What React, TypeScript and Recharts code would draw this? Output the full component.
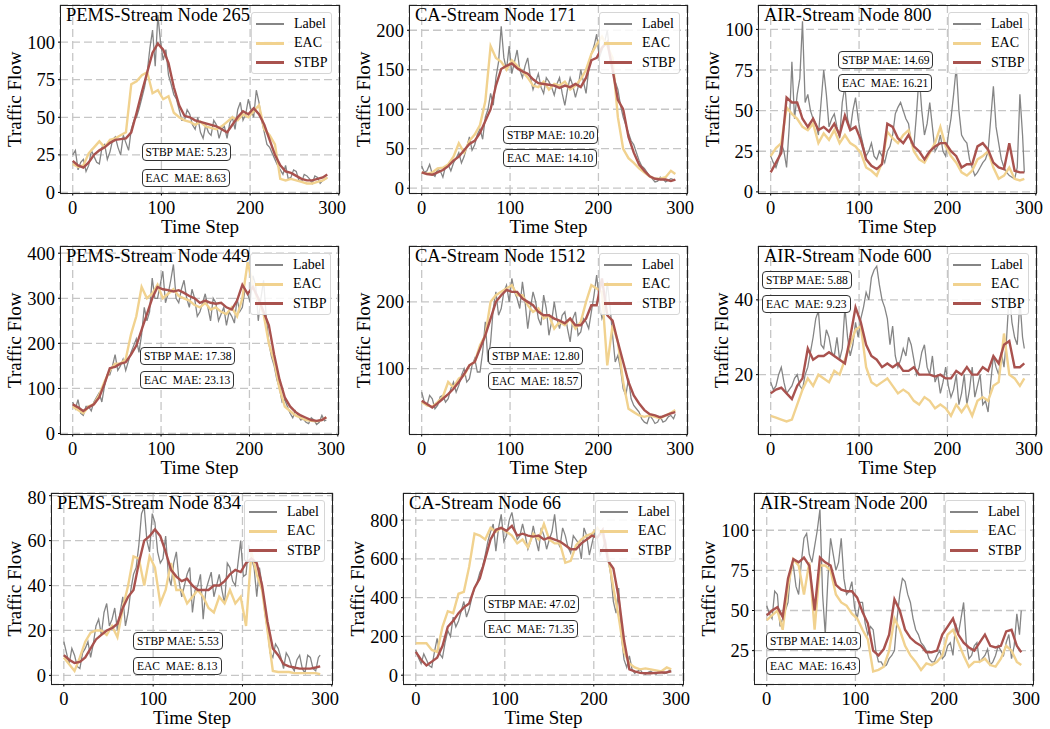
import { CartesianGrid, Line, LineChart, XAxis, YAxis } from "recharts"

const SERIF = '"Liberation Serif", "Times New Roman", serif'
const C_LABEL = "#858585"
const C_EAC = "#F1D28F"
const C_STBP = "#A9524E"

const AXIS_W = 60
const AXIS_H = 44
const PAD = 6

// prediction time steps, read every 6 steps (plus the last one)
const steps = [
  0, 6, 12, 18, 24, 30, 36, 42, 48, 54, 60, 66, 72, 78, 84, 90, 96, 102, 108, 114, 120, 126, 132, 138,
  144, 150, 156, 162, 168, 174, 180, 186, 192, 198, 204, 210, 216, 222, 228, 234, 240, 246, 252, 258,
  264, 270, 276, 282, 287,
]
// the noisy ground truth is read every 3 steps
const labelSteps = [
  0, 3, 6, 9, 12, 15, 18, 21, 24, 27, 30, 33, 36, 39, 42, 45, 48, 51, 54, 57, 60, 63, 66, 69, 72, 75, 78, 81,
  84, 87, 90, 93, 96, 99, 102, 105, 108, 111, 114, 117, 120, 123, 126, 129, 132, 135, 138, 141, 144, 147, 150,
  153, 156, 159, 162, 165, 168, 171, 174, 177, 180, 183, 186, 189, 192, 195, 198, 201, 204, 207, 210, 213, 216,
  219, 222, 225, 228, 231, 234, 237, 240, 243, 246, 249, 252, 255, 258, 261, 264, 267, 270, 273, 276, 279, 282,
  285, 287,
]
const xTicks = [0, 100, 200, 300]

// PEMS-Stream Node 265
const pems265Label = [
  25, 28, 15, 20, 22, 14, 18, 28, 24, 20, 19, 30, 32, 22, 27, 35,
  37, 30, 25, 38, 33, 28, 42, 48, 50, 56, 63, 70, 80, 96, 108, 84,
  118, 100, 88, 95, 78, 72, 65, 62, 55, 48, 48, 55, 52, 45, 42, 50,
  40, 36, 45, 40, 38, 48, 45, 36, 42, 44, 36, 46, 50, 42, 55, 60,
  48, 52, 62, 55, 50, 68, 60, 48, 40, 32, 30, 26, 22, 18, 15, 12,
  18, 9, 10, 15, 14, 8, 7, 12, 11, 9, 6, 11, 10, 6, 8, 9,
  10,
]
const pems265Eac = [19, 17, 18, 26, 30, 34, 30, 35, 36, 38, 40, 72, 74, 78, 80, 66, 68, 62, 64, 53, 50, 48, 47, 45, 47, 44, 43, 42, 44, 47, 50, 48, 52, 50, 54, 58, 42, 38, 32, 9, 8, 9, 8, 7, 6, 6, 7, 8, 10]
const pems265Stbp = [21, 18, 16.5, 20, 25, 28, 30, 33, 35, 35.5, 36, 40, 53, 67, 80, 93, 99, 95, 86, 70, 58, 51, 50, 48, 47, 46, 45, 44, 42, 40, 45, 50, 54, 52, 56, 52, 45, 35, 25, 18, 14, 13, 11, 9, 8, 8, 9, 10, 12]

// CA-Stream Node 171
const ca171Label = [
  28, 20, 22, 30, 18, 15, 24, 22, 14, 28, 30, 22, 32, 38, 45, 32,
  40, 52, 65, 48, 55, 68, 75, 62, 90, 100, 120, 105, 140, 160, 205, 165,
  150, 180, 145, 160, 175, 150, 140, 155, 165, 140, 125, 135, 145, 128, 120, 140,
  135, 128, 118, 132, 140, 120, 105, 125, 140, 130, 115, 128, 150, 135, 120, 150,
  170, 180, 195, 165, 175, 185, 200, 170, 150, 135, 125, 105, 90, 80, 70, 60,
  55, 45, 35, 28, 25, 20, 15, 12, 8, 9, 14, 12, 8, 10, 12, 11,
  10,
]
const ca171Eac = [20, 18, 20, 25, 26, 30, 40, 57, 45, 60, 68, 80, 110, 180, 165, 160, 150, 162, 155, 148, 140, 130, 128, 135, 125, 132, 130, 135, 125, 130, 138, 150, 170, 182, 192, 180, 165, 90, 50, 38, 32, 25, 20, 15, 12, 12, 14, 22, 18]
const ca171Stbp = [20, 18, 17, 20, 23, 28, 35, 40, 48, 56, 60, 70, 85, 100, 130, 151, 155, 158, 152, 148, 145, 138, 133, 132, 131, 130, 127, 130, 128, 132, 128, 140, 162, 165, 178, 185, 150, 112, 100, 65, 45, 30, 22, 15, 12, 11, 11, 9, 11]

// AIR-Stream Node 800
const air800Label = [
  22, 18, 15, 20, 30, 25, 15, 40, 80, 45, 60, 70, 105, 55, 60, 50,
  45, 42, 35, 55, 75, 60, 40, 45, 48, 40, 33, 55, 65, 45, 38, 50,
  58, 45, 35, 28, 22, 25, 30, 22, 20, 25, 22, 18, 25, 28, 35, 48,
  52, 55, 50, 45, 42, 30, 28, 48, 72, 50, 35, 42, 55, 40, 25, 28,
  35, 25, 22, 35, 45, 60, 77, 50, 35, 32, 30, 20, 15, 10, 12, 15,
  18, 20, 25, 45, 65, 40, 30, 20, 15, 12, 10, 9, 8, 15, 60, 35,
  12,
]
const air800Eac = [22, 27, 30, 52, 48, 45, 40, 38, 42, 30, 36, 32, 38, 30, 35, 30, 28, 24, 15, 13, 10, 18, 37, 33, 30, 35, 38, 25, 20, 18, 24, 30, 40, 28, 22, 18, 12, 10, 13, 20, 22, 25, 15, 8, 10, 15, 8, 7, 8]
const air800Stbp = [12, 18, 24, 58, 55, 55, 45, 40, 45, 38, 40, 37, 42, 35, 47, 38, 40, 32, 20, 16, 14, 17, 42, 40, 33, 30, 35, 28, 25, 20, 25, 28, 30, 30, 25, 22, 15, 17, 17, 28, 30, 26, 18, 15, 14, 30, 13, 12, 12]

// PEMS-Stream Node 449
const pems449Label = [
  70, 55, 75, 45, 40, 60, 60, 50, 70, 80, 90, 70, 105, 130, 130, 150,
  175, 140, 150, 165, 140, 160, 180, 195, 210, 180, 220, 280, 250, 270, 345, 300,
  300, 330, 360, 290, 310, 340, 375, 300, 290, 320, 340, 300, 280, 320, 300, 260,
  270, 290, 310, 280, 250, 300, 290, 250, 265, 280, 240, 270, 260, 245, 300, 270,
  280, 320, 310, 290, 350, 330, 250, 300, 340, 260, 200, 170, 150, 120, 100, 70,
  75, 60, 45, 35, 50, 40, 30, 32, 25, 22, 35, 30, 20, 25, 40, 28,
  30,
]
const pems449Eac = [60, 52, 45, 60, 65, 85, 115, 140, 155, 155, 165, 220, 260, 325, 300, 310, 330, 300, 310, 320, 305, 300, 295, 285, 280, 290, 275, 280, 270, 265, 280, 260, 300, 380, 330, 290, 265, 200, 160, 100, 60, 50, 40, 35, 30, 28, 27, 30, 36]
const pems449Stbp = [65, 58, 50, 58, 65, 80, 110, 145, 148, 155, 158, 175, 195, 230, 265, 300, 325, 320, 318, 315, 318, 312, 305, 300, 290, 295, 290, 288, 290, 280, 275, 295, 330, 310, 325, 300, 270, 240, 175, 120, 80, 60, 48, 40, 35, 30, 28, 30, 36]

// CA-Stream Node 1512
const ca1512Label = [
  65, 50, 45, 60, 55, 40, 45, 58, 60, 50, 55, 70, 80, 65, 75, 90,
  100, 80, 85, 105, 115, 95, 95, 125, 170, 110, 140, 190, 215, 180, 190, 215,
  225, 200, 235, 215, 205, 190, 230, 200, 160, 190, 215, 200, 175, 165, 210, 190,
  150, 170, 200, 175, 160, 180, 185, 160, 140, 175, 185, 150, 155, 175, 170, 160,
  185, 210, 240, 200, 175, 185, 230, 195, 150, 110, 120, 100, 70, 60, 85, 55,
  45, 40, 35, 25, 20, 18, 30, 25, 18, 20, 28, 20, 22, 28, 30, 25,
  32,
]
const ca1512Eac = [50, 45, 43, 50, 58, 80, 72, 85, 90, 105, 110, 135, 150, 200, 210, 215, 220, 225, 210, 210, 195, 185, 190, 175, 180, 160, 170, 165, 175, 160, 170, 200, 225, 220, 215, 105, 165, 140, 80, 40, 35, 30, 28, 30, 28, 26, 30, 34, 38]
const ca1512Stbp = [52, 47, 42, 48, 55, 62, 70, 80, 92, 105, 110, 130, 150, 175, 200, 210, 218, 215, 215, 205, 200, 195, 185, 180, 180, 175, 172, 168, 175, 165, 165, 175, 195, 195, 235, 180, 172, 140, 110, 80, 60, 48, 38, 32, 30, 27, 30, 33, 35]

// AIR-Stream Node 600
const air600Label = [
  18, 16, 17, 20, 22, 18, 15, 16, 17, 19, 20, 17, 16, 20, 22, 26,
  30, 35, 37, 28, 27, 32, 30, 26, 25, 30, 24, 27, 38, 30, 25, 28,
  34, 30, 35, 38, 42, 40, 46, 48, 49, 44, 40, 38, 35, 28, 33, 25,
  22, 24, 27, 25, 30, 28, 24, 20, 22, 26, 28, 22, 20, 25, 18, 20,
  15, 18, 22, 17, 14, 16, 20, 12, 15, 20, 12, 16, 22, 14, 17, 20,
  12, 13, 10, 18, 25, 22, 20, 26, 22, 30, 42, 34, 30, 28, 40, 30,
  27,
]
const air600Eac = [9, 8.5, 8, 7.5, 8, 12, 16, 19, 17, 20, 19, 18, 21, 20, 24, 28, 32, 33, 22, 18, 17, 18, 19, 17, 15, 16, 15, 13, 12, 14, 13, 11, 12, 11, 9, 12, 10, 12, 9, 13, 14, 13, 17, 18, 31, 20, 19, 17, 19]
const air600Stbp = [15, 16, 16.5, 15, 13.5, 17, 19, 27, 24, 25, 25, 26, 25, 24, 23, 30, 38, 34, 28, 25, 24, 22, 23, 22, 23, 21, 21, 22, 20, 20, 20, 19.5, 20, 19, 19, 21, 20, 22, 20, 20, 22, 21, 25, 23, 28, 29, 22, 22, 23]

// PEMS-Stream Node 834
const pems834Label = [
  15, 10, 5, 12, 9, 4, 3, 10, 12, 15, 8, 14, 22, 25, 18, 28,
  32, 22, 25, 30, 20, 28, 35, 22, 28, 38, 45, 48, 58, 72, 75, 60,
  55, 72, 68, 55, 50, 52, 62, 45, 40, 50, 55, 42, 35, 40, 45, 48,
  28, 38, 40, 45, 25, 38, 42, 46, 35, 40, 45, 38, 32, 50, 48, 42,
  40, 50, 60, 44, 45, 58, 52, 48, 35, 48, 40, 28, 20, 10, 8, 14,
  12, 8, 3, 10, 8, 4, 2, 7, 9, 3, 1, 9, 8, 3, 2, 8,
  9,
]
const pems834Eac = [8, 5, 2, 8, 15, 19, 20, 20, 18, 22, 17, 30, 40, 53, 52, 40, 53, 48, 32, 38, 50, 38, 38, 32, 35, 38, 35, 30, 28, 35, 32, 38, 32, 35, 22, 55, 45, 38, 20, 2, 1.5, 1.5, 1.5, 1, 1, 1, 1, 1, 0.5]
const pems834Stbp = [9, 7, 5.5, 6, 8, 12, 16, 18, 20, 21, 23, 30, 35, 38, 50, 60, 62, 65, 62, 55, 47, 44, 42, 43, 40, 38, 38, 38, 40, 40, 42, 45, 47, 46, 50, 52, 50, 40, 24, 12, 9, 5, 4, 3.5, 3, 3, 3, 3.5, 4]

// CA-Stream Node 66
const ca66Label = [
  130, 90, 60, 110, 80, 50, 40, 120, 190, 110, 90, 170, 230, 200, 300, 250,
  280, 330, 380, 300, 340, 400, 450, 480, 530, 560, 620, 690, 740, 780, 640, 760,
  830, 690, 720, 800, 840, 760, 700, 720, 780, 720, 650, 690, 770, 700, 640, 760,
  720, 650, 700, 740, 830, 700, 660, 760, 720, 660, 630, 720, 700, 680, 600, 760,
  720, 620, 680, 740, 700, 620, 650, 700, 600, 520, 380, 320, 450, 200, 80, 40,
  100, 30, 10, 20, 30, 10, 5, 15, 20, 10, 5, 20, 15, 8, 10, 25,
  20,
]
const ca66Eac = [165, 165, 165, 130, 120, 250, 330, 320, 420, 430, 560, 730, 720, 700, 760, 740, 760, 740, 720, 680, 700, 660, 730, 700, 780, 700, 680, 680, 580, 590, 670, 700, 720, 730, 760, 720, 620, 450, 300, 120, 60, 40, 30, 35, 30, 25, 20, 40, 30]
const ca66Stbp = [120, 80, 50, 70, 90, 150, 250, 280, 320, 350, 370, 450, 500, 600, 700, 750, 760, 745, 770, 720, 730, 720, 715, 720, 700, 710, 700, 690, 670, 650, 650, 680, 700, 720, 710, 750, 590, 550, 400, 180, 30, 20, 12, 10, 10, 12, 14, 15, 20]

// AIR-Stream Node 200
const air200Label = [
  53, 48, 45, 62, 60, 40, 45, 50, 55, 75, 78, 65, 60, 80, 95, 98,
  85, 80, 90, 100, 113, 60, 35, 70, 95, 85, 75, 80, 95, 70, 60, 62,
  68, 52, 45, 55, 55, 42, 35, 40, 38, 25, 18, 18, 15, 16, 20, 22,
  25, 45, 60, 70, 68, 60, 55, 45, 38, 35, 30, 28, 25, 20, 18, 18,
  22, 25, 20, 22, 28, 30, 22, 42, 35, 45, 55, 30, 20, 22, 28, 30,
  18, 20, 22, 26, 16, 18, 22, 28, 25, 22, 30, 35, 20, 28, 48, 35,
  50,
]
const air200Eac = [44, 47, 50, 38, 65, 82, 78, 60, 80, 38, 78, 78, 75, 60, 55, 53, 48, 45, 38, 32, 12, 13, 15, 25, 45, 38, 28, 22, 18, 13, 17, 16, 18, 22, 35, 38, 30, 22, 15, 18, 18, 20, 16, 15, 20, 28, 25, 18, 16]
const air200Stbp = [47, 50, 52, 46, 70, 82, 80, 83, 78, 50, 83, 80, 78, 66, 63, 62, 62, 58, 49, 42, 25, 22, 26, 35, 57, 50, 38, 33, 30, 28, 24, 24, 25, 35, 40, 45, 35, 30, 27, 25, 30, 35, 28, 27, 28, 37, 38, 28, 24]

type Box = { l: number; t: number; r: number; b: number }
type Panel = {
  title: string
  label: number[]
  eac: number[]
  stbp: number[]
  yDomain: [number, number]
  yTicks: number[]
  box: Box
  ylabGap: number
  stbpMae: string
  eacMae: string
  mae: [number, number, number, number]
}

const panels: Panel[] = [
  { title: "PEMS-Stream Node 265", label: pems265Label, eac: pems265Eac, stbp: pems265Stbp, yDomain: [-0.7, 124.7], yTicks: [0, 25, 50, 75, 100], box: { l: 60, t: 5, r: 340, b: 193.5 }, ylabGap: 39.5, stbpMae: "5.23", eacMae: "8.63", mae: [141.5, 142.5, 141.5, 168.5] },
  { title: "CA-Stream Node 171", label: ca171Label, eac: ca171Eac, stbp: ca171Stbp, yDomain: [-6.7, 232], yTicks: [0, 50, 100, 150, 200], box: { l: 409, t: 5, r: 688, b: 193.5 }, ylabGap: 39.5, stbpMae: "10.20", eacMae: "14.10", mae: [503, 126, 503, 149] },
  { title: "AIR-Stream Node 800", label: air800Label, eac: air800Eac, stbp: air800Stbp, yDomain: [-1, 115], yTicks: [0, 25, 50, 75, 100], box: { l: 758, t: 5, r: 1037, b: 193.5 }, ylabGap: 39.5, stbpMae: "14.69", eacMae: "16.21", mae: [838, 51, 838, 74] },
  { title: "PEMS-Stream Node 449", label: pems449Label, eac: pems449Eac, stbp: pems449Stbp, yDomain: [-2.2, 416], yTicks: [0, 100, 200, 300, 400], box: { l: 60, t: 246, r: 339, b: 434.5 }, ylabGap: 39.5, stbpMae: "17.38", eacMae: "23.13", mae: [140, 347, 140, 371] },
  { title: "CA-Stream Node 1512", label: ca1512Label, eac: ca1512Eac, stbp: ca1512Stbp, yDomain: [1.5, 283.6], yTicks: [100, 200], box: { l: 409, t: 246, r: 688, b: 434.5 }, ylabGap: 39.5, stbpMae: "12.80", eacMae: "18.57", mae: [488, 347, 488, 372] },
  { title: "AIR-Stream Node 600", label: air600Label, eac: air600Eac, stbp: air600Stbp, yDomain: [4, 54.4], yTicks: [20, 40], box: { l: 758, t: 246, r: 1037, b: 434.5 }, ylabGap: 30.5, stbpMae: "5.88", eacMae: "9.23", mae: [762, 271, 762, 295] },
  { title: "PEMS-Stream Node 834", label: pems834Label, eac: pems834Eac, stbp: pems834Stbp, yDomain: [-4.06, 81.2], yTicks: [0, 20, 40, 60, 80], box: { l: 51, t: 493, r: 333, b: 684.5 }, ylabGap: 30.5, stbpMae: "5.53", eacMae: "8.13", mae: [133, 632, 133, 657] },
  { title: "CA-Stream Node 66", label: ca66Label, eac: ca66Eac, stbp: ca66Stbp, yDomain: [-48, 940], yTicks: [0, 200, 400, 600, 800], box: { l: 403, t: 493, r: 684, b: 684.5 }, ylabGap: 39.5, stbpMae: "47.02", eacMae: "71.35", mae: [484, 595, 484, 620] },
  { title: "AIR-Stream Node 200", label: air200Label, eac: air200Eac, stbp: air200Stbp, yDomain: [3.9, 123.2], yTicks: [25, 50, 75, 100], box: { l: 754, t: 493, r: 1034, b: 684.5 }, ylabGap: 39.5, stbpMae: "14.03", eacMae: "16.43", mae: [766, 632, 766, 657] },
]

const tickStyle = { fill: "#000", fontSize: 18.5, fontFamily: SERIF }
const axisLabelStyle = { textAnchor: "middle" as const, fill: "#000", fontSize: 19, fontFamily: SERIF }

const legendItems = [
  { name: "Label", color: C_LABEL, width: 1.6 },
  { name: "EAC", color: C_EAC, width: 2.6 },
  { name: "STBP", color: C_STBP, width: 2.6 },
]

function MaeBox({ x, y, text }: { x: number; y: number; text: string }) {
  return (
    <div
      style={{
        position: "absolute",
        left: x,
        top: y,
        height: 18,
        boxSizing: "border-box",
        padding: "0 3px",
        border: "1px solid #333",
        borderRadius: 4,
        background: "#fff",
        fontFamily: SERIF,
        fontSize: 11.5,
        lineHeight: "16px",
        whiteSpace: "pre",
        color: "#000",
      }}
    >
      {text}
    </div>
  )
}

function StreamPanel({ p }: { p: Panel }) {
  const { box } = p
  const w = box.r - box.l
  const h = box.b - box.t
  const rows = steps.map((t, i) => ({ t, EAC: p.eac[i], STBP: p.stbp[i] }))
  const labelRows = labelSteps.map((t, i) => ({ t, Label: p.label[i] }))

  return (
    <>
      <div style={{ position: "absolute", left: box.l - AXIS_W, top: box.t - PAD }}>
        <LineChart
          width={w + AXIS_W + PAD}
          height={h + PAD + AXIS_H}
          data={rows}
          margin={{ top: PAD, right: PAD, left: 0, bottom: 0 }}
        >
          <CartesianGrid stroke="#c6c6c6" strokeWidth={1.3} strokeDasharray="8 4" />
          <XAxis
            type="number"
            dataKey="t"
            domain={[-14.35, 301.35]}
            allowDataOverflow
            ticks={xTicks}
            height={AXIS_H}
            axisLine={false}
            tickLine={{ stroke: "#000" }}
            tickSize={2}
            tickMargin={5}
            tick={tickStyle}
            label={{ value: "Time Step", position: "insideBottom", offset: AXIS_H - 39.5, style: axisLabelStyle }}
          />
          <YAxis
            type="number"
            domain={p.yDomain}
            allowDataOverflow
            ticks={p.yTicks}
            width={AXIS_W}
            axisLine={false}
            tickLine={{ stroke: "#000" }}
            tickSize={2}
            tickMargin={3}
            tick={tickStyle}
            label={{
              value: "Traffic Flow",
              angle: -90,
              position: "insideLeft",
              offset: AXIS_W - p.ylabGap - 6.7,
              style: axisLabelStyle,
            }}
          />
          <Line data={labelRows} type="linear" dataKey="Label" stroke={C_LABEL} strokeWidth={1.3} dot={false} activeDot={false} isAnimationActive={false} />
          <Line type="linear" dataKey="EAC" stroke={C_EAC} strokeWidth={2.4} dot={false} activeDot={false} isAnimationActive={false} />
          <Line type="linear" dataKey="STBP" stroke={C_STBP} strokeWidth={2.4} dot={false} activeDot={false} isAnimationActive={false} />
        </LineChart>
      </div>

      {/* frame */}
      <div
        style={{
          position: "absolute",
          left: box.l,
          top: box.t,
          width: w,
          height: h,
          boxSizing: "border-box",
          border: "1px solid #222",
          pointerEvents: "none",
        }}
      />

      <div
        style={{
          position: "absolute",
          left: box.l + 6,
          top: box.t + 1.2,
          fontFamily: SERIF,
          fontSize: 18.5,
          lineHeight: "18px",
          whiteSpace: "nowrap",
          color: "#000",
        }}
      >
        {p.title}
      </div>

      {/* legend */}
      <div
        style={{
          position: "absolute",
          left: box.r - 8 - 81,
          top: box.t + 7,
          width: 81,
          height: 62,
          boxSizing: "border-box",
          border: "1px solid #d6d6d6",
          borderRadius: 3,
          background: "rgba(255,255,255,0.85)",
        }}
      >
        {legendItems.map((it, i) => (
          <div key={it.name} style={{ position: "absolute", left: 0, top: 2 + i * 19.3, height: 18, width: 80 }}>
            <div
              style={{
                position: "absolute",
                left: 4,
                top: 9 - it.width / 2,
                width: 28,
                height: it.width,
                background: it.color,
              }}
            />
            <div
              style={{
                position: "absolute",
                left: 42,
                top: 0,
                fontFamily: SERIF,
                fontSize: 14,
                lineHeight: "18px",
                color: "#000",
              }}
            >
              {it.name}
            </div>
          </div>
        ))}
      </div>

      <MaeBox x={p.mae[0]} y={p.mae[1]} text={`STBP MAE: ${p.stbpMae}`} />
      <MaeBox x={p.mae[2]} y={p.mae[3]} text={`EAC  MAE: ${p.eacMae}`} />
    </>
  )
}

export default function App() {
  return (
    <div style={{ position: "absolute", left: 0, top: 0, width: 1050, height: 729, background: "#fff", overflow: "hidden" }}>
      {panels.map((p) => (
        <StreamPanel key={p.title} p={p} />
      ))}
    </div>
  )
}
